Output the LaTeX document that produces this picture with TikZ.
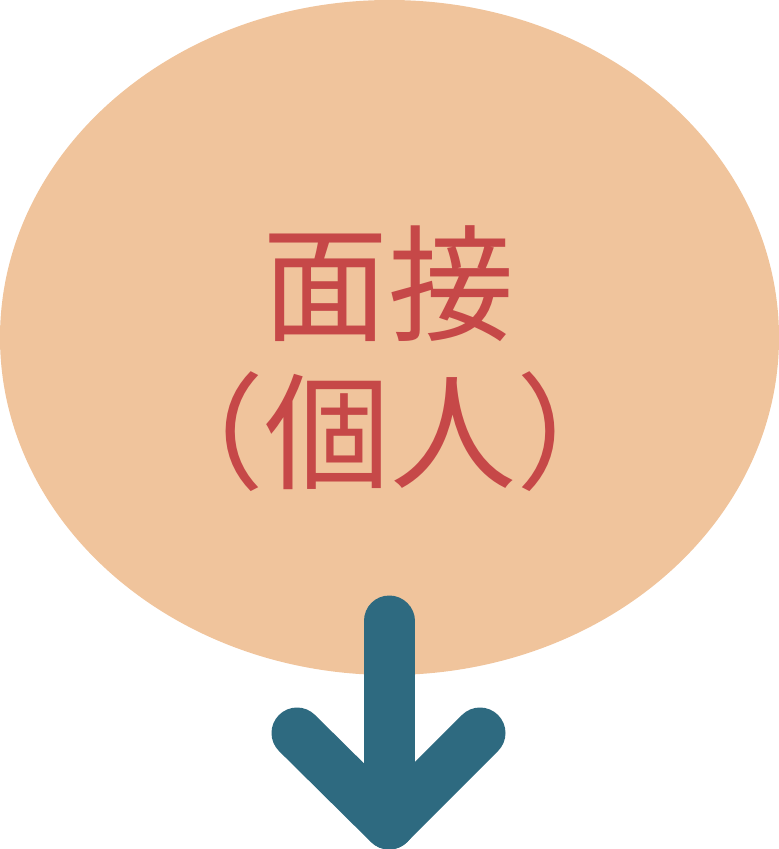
\documentclass[tikz,border=0pt]{standalone}
\usepackage{fontspec}
\usetikzlibrary{shapes.geometric}
\newfontfamily\cjk{Noto Sans CJK JP}
\definecolor{peach}{HTML}{F0C49C}
\definecolor{tealc}{HTML}{2E6A80}
\definecolor{redtxt}{HTML}{C64848}
\begin{document}
\begin{tikzpicture}[x=1pt,y=-1pt,
  bubble/.style={ellipse,fill=peach,draw=none,inner sep=0pt,minimum width=779pt,minimum height=675pt},
  arrowline/.style={draw=tealc,line width=51pt,line cap=round,line join=round},
  label/.style={text=redtxt,font=\cjk\fontsize{126}{126}\selectfont,inner sep=0pt,anchor=center}]
\useasboundingbox (0,0) rectangle (779,849);
\node[bubble] (oval) at (389.5,337.5) {};
\node[label] (l1) at (388,284) {面接};
\node[label] (l2) at (390.5,432) {（個人）};
\coordinate (top) at (389,621);
\coordinate (tip) at (389,824);
\coordinate (lw) at (297,733);
\coordinate (rw) at (480,733);
\draw[arrowline] (top) -- (tip);
\draw[arrowline] (lw) -- (tip) -- (rw);
\end{tikzpicture}
\end{document}
